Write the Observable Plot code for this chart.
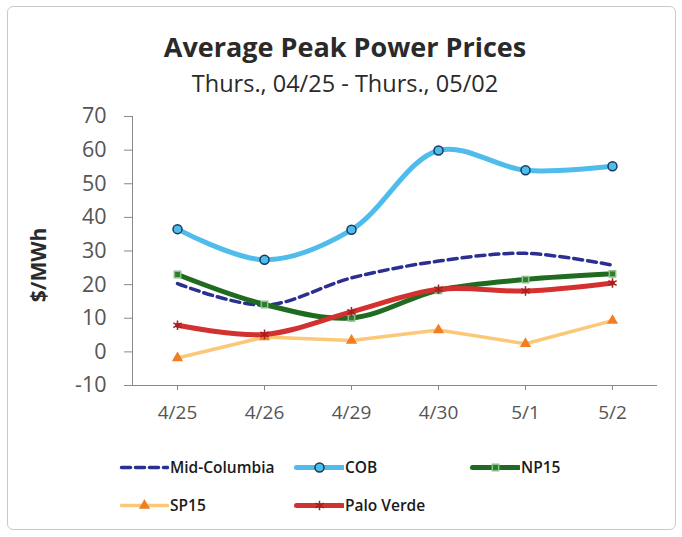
<!DOCTYPE html>
<html><head><meta charset="utf-8">
<script src="https://cdn.jsdelivr.net/npm/d3@7"></script>
<script src="https://cdn.jsdelivr.net/npm/@observablehq/plot@0.6"></script>
<style>
body{margin:0;background:#fff;font-family:"Open Sans",sans-serif;}
#wrap{position:relative;width:682px;height:537px;overflow:hidden;}
#frame{position:absolute;left:7px;top:6px;width:669px;height:524px;border:1.5px solid #c9c9c9;border-radius:6px;box-sizing:border-box;}
#title{position:absolute;left:0;width:690px;top:28px;text-align:center;font-weight:700;font-size:27px;line-height:38px;color:#2a2a2a;white-space:nowrap;}
#subtitle{position:absolute;left:0;width:690px;top:66px;text-align:center;font-size:23.5px;line-height:34px;color:#2a2a2a;white-space:nowrap;}
#ylabel{position:absolute;left:38px;top:265px;transform:translate(-50%,-50%) rotate(-90deg);font-weight:700;font-size:21px;color:#2a2a2a;white-space:nowrap;}
#plot{position:absolute;left:0;top:95px;}
.leg{position:absolute;display:flex;align-items:center;font-size:15.5px;font-weight:600;color:#1a1a1a;white-space:nowrap;}
.leg svg{margin-right:1px;}
</style></head>
<body><div id="wrap">
<div id="frame"></div>
<div id="title">Average Peak Power Prices</div>
<div id="subtitle">Thurs., 04/25 - Thurs., 05/02</div>
<div id="ylabel">$/MWh</div>
<div id="plot"></div>
<div id="legend"></div>
</div>
<script>
const dates = ["4/25","4/26","4/29","4/30","5/1","5/2"];
const midColumbia = [20.3, 13.9, 22.0, 27.0, 29.3, 25.8];
const cob = [36.5, 27.4, 36.3, 59.9, 54.0, 55.2];
const np15 = [23.0, 14.1, 10.1, 18.3, 21.5, 23.2];
const sp15 = [-1.8, 4.4, 3.4, 6.5, 2.4, 9.3];
const paloVerde = [7.9, 5.2, 11.9, 18.6, 18.1, 20.5];
const yTicks = [-10, 0, 10, 20, 30, 40, 50, 60, 70];

const seriesNames = ["Mid-Columbia", "COB", "NP15", "SP15", "Palo Verde"];
const seriesValues = [midColumbia, cob, np15, sp15, paloVerde];
const styles = {
  "Mid-Columbia": {line:"#2b2f8f", width:3.5, dash:"9,5", curve:"catmull-rom", symbol:null},
  "COB": {line:"#4fbcec", width:5, curve:"catmull-rom", symbol:"circle", fill:"#4fbcec", mstroke:"#163b5e", r:4.5},
  "NP15": {line:"#1f6b1f", width:5, curve:"catmull-rom", symbol:"square", fill:"#2f7d2f", mstroke:"#8cc08c", r:3.6},
  "SP15": {line:"#fbc878", width:3.5, curve:"linear", symbol:"triangle", fill:"#f27d22", mstroke:"#f27d22", r:3.2},
  "Palo Verde": {line:"#d33030", width:5, curve:"catmull-rom", symbol:"asterisk", fill:"none", mstroke:"#a81e1e", r:4.5}
};

const rows = seriesNames.map((name, i) => dates.map((d, j) => ({series: name, date: d, value: seriesValues[i][j]})));

const marks = [
  Plot.axisY({ticks: yTicks, tickFormat: d => String(d), tickSize: 8, tickPadding: 18, fontSize: 21.5, color: "#555", stroke: "#888", label: null}),
  Plot.axisX({tickSize: 5, tickPadding: 15, fontSize: 19, color: "#555", stroke: "#888", label: null}),
  Plot.frame({anchor: "left", stroke: "#888"}),
  Plot.frame({anchor: "bottom", stroke: "#888"})
];
rows.forEach(data => {
  const s = styles[data[0].series];
  marks.push(Plot.line(data, {x: "date", y: "value", stroke: s.line, strokeWidth: s.width, strokeDasharray: s.dash, curve: s.curve}));
  if (s.symbol) {
    marks.push(Plot.dot(data, {x: "date", y: "value", symbol: s.symbol, r: s.r, fill: s.fill, stroke: s.mstroke, strokeWidth: 1.5}));
  }
});

const chart = Plot.plot({
  width: 682,
  height: 340,
  marginLeft: 132,
  marginRight: 26,
  marginTop: 21,
  marginBottom: 50,
  style: {fontFamily: "'Open Sans', sans-serif", background: "transparent"},
  x: {type: "point", domain: dates, padding: 0.5},
  y: {domain: [-10, 70]},
  marks
});
document.getElementById("plot").appendChild(chart);

// legend
const legendPos = [
  {name:"Mid-Columbia", left:119, top:467},
  {name:"COB", left:294, top:467},
  {name:"NP15", left:470, top:467},
  {name:"SP15", left:119, top:505},
  {name:"Palo Verde", left:294, top:505}
];
const legend = document.getElementById("legend");
legendPos.forEach(p => {
  const s = styles[p.name];
  const div = document.createElement("div");
  div.className = "leg";
  div.style.left = p.left + "px";
  div.style.top = (p.top - 11) + "px";
  const sw = Plot.plot({
    width: 50, height: 22, margin: 0,
    x: {domain: [0, 1], range: [2, 48], axis: null},
    y: {domain: [0, 1], range: [11, 11], axis: null},
    style: {background: "transparent"},
    marks: [
      Plot.line([{x:0,y:0},{x:1,y:0}], {x:"x", y:"y", stroke: s.line, strokeWidth: s.width, strokeDasharray: s.dash}),
      s.symbol ? Plot.dot([{x:0.5,y:0}], {x:"x", y:"y", symbol: s.symbol, r: s.r, fill: s.fill, stroke: s.mstroke, strokeWidth: 1.5}) : null
    ]
  });
  div.appendChild(sw);
  const t = document.createElement("span");
  t.textContent = p.name;
  div.appendChild(t);
  legend.appendChild(div);
});
</script>
</body></html>
